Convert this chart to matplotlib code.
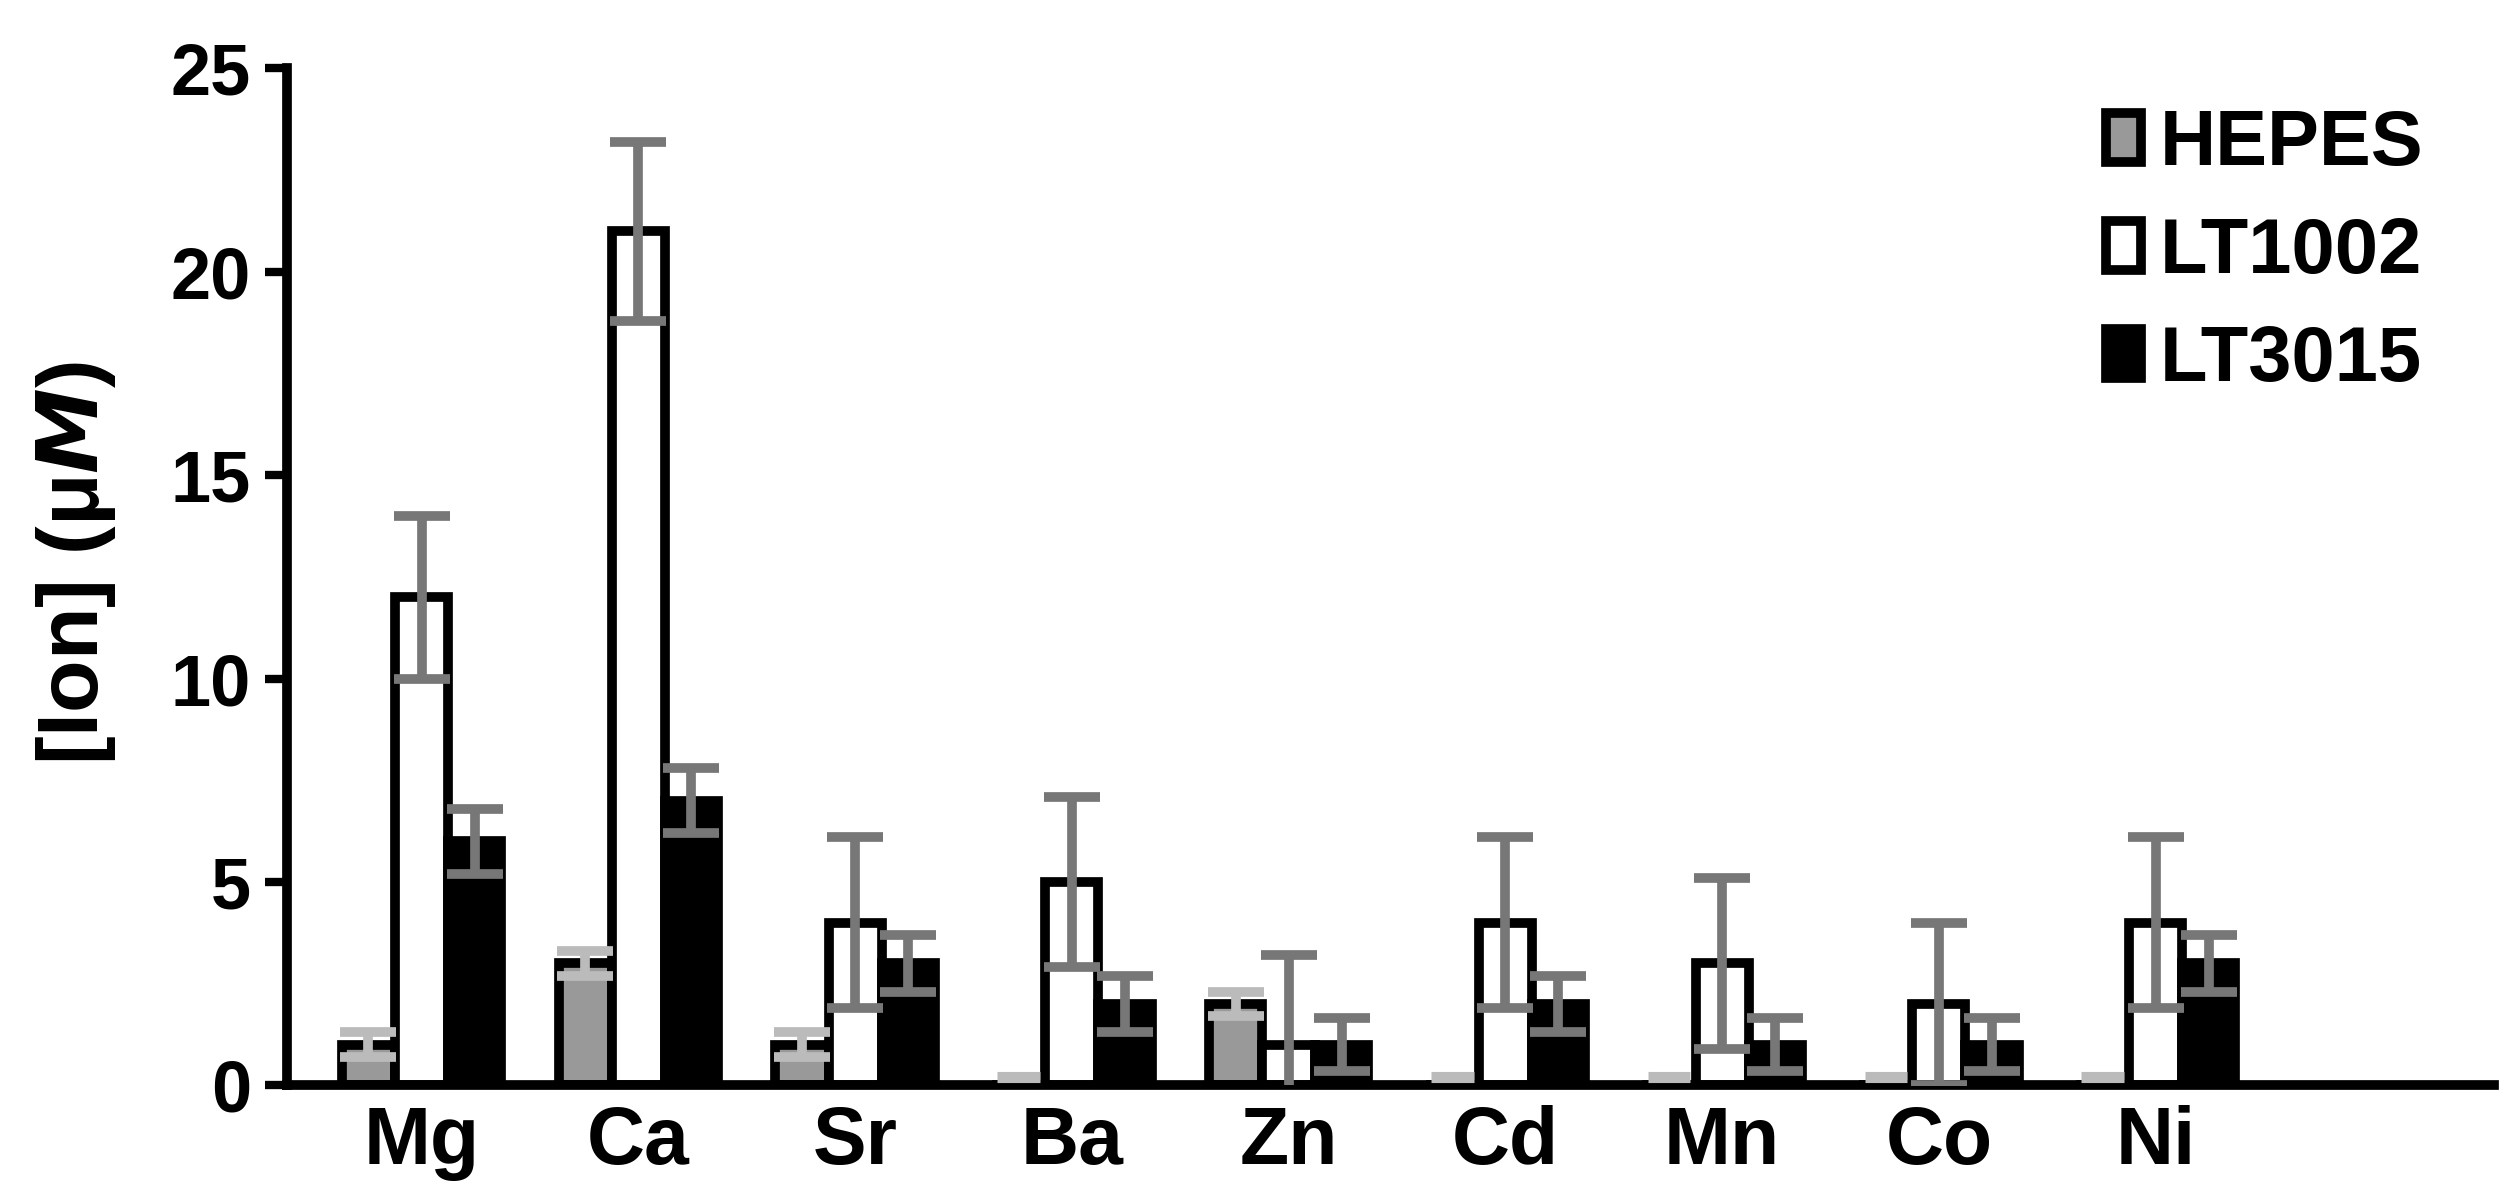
import matplotlib
matplotlib.use("Agg")
import matplotlib.pyplot as plt
import numpy as np

ions = ["Mg", "Ca", "Sr", "Ba", "Zn", "Cd", "Mn", "Co", "Ni"]
hepes = [1, 3, 1, 0, 2, 0, 0, 0, 0]
hepes_err = [0.3, 0.3, 0.3, 0, 0.3, 0, 0, 0, 0]
lt1002 = [12, 21, 4, 5, 1, 4, 3, 2, 4]
lt1002_err = [2.0, 2.2, 2.1, 2.1, 2.2, 2.1, 2.1, 2.0, 2.1]
lt3015 = [6, 7, 3, 2, 1, 2, 1, 1, 3]
lt3015_err = [0.8, 0.8, 0.7, 0.7, 0.65, 0.7, 0.65, 0.65, 0.7]

plt.rcParams['font.family'] = ['Liberation Sans', 'DejaVu Sans']
plt.rcParams['font.weight'] = 'bold'

fig = plt.figure(figsize=(25.19, 11.98), dpi=100)
ax = fig.add_axes([0.114, 0.094, 0.876, 0.849])
x = np.arange(len(ions))
w = 0.245
ekw = dict(elinewidth=7, capthick=7)
ax.bar(x - w, hepes, w, color='#999999', edgecolor='black', linewidth=7, label='HEPES', zorder=2)
ax.bar(x, lt1002, w, color='white', edgecolor='black', linewidth=7, label='LT1002', zorder=2)
ax.bar(x + w, lt3015, w, color='black', edgecolor='black', linewidth=7, label='LT3015', zorder=2)
hx = np.array([xi - w for xi, v in zip(x, hepes) if v > 0])
hv = [v for v in hepes if v > 0]
he = [e for v, e in zip(hepes, hepes_err) if v > 0]
ax.errorbar(hx, hv, yerr=he, fmt='none', ecolor='#bbbbbb', capsize=20, zorder=3, **ekw)
ax.errorbar(x, lt1002, yerr=lt1002_err, fmt='none', ecolor='#777777', capsize=20, zorder=3, **ekw)
ax.errorbar(x + w, lt3015, yerr=lt3015_err, fmt='none', ecolor='#777777', capsize=20, zorder=3, **ekw)
for xi, v in zip(x, hepes):
    if v == 0:
        ax.plot([xi - w * 1.4, xi - w * 0.6], [0.2, 0.2], color='#bbbbbb', lw=8, zorder=3, solid_capstyle='butt')

ax.set_xlim(-0.62, 9.56)
ax.set_ylim(0, 25)
ax.set_yticks([0, 5, 10, 15, 20, 25])
ax.set_xticks(x)
ax.set_xticklabels(ions)
ax.tick_params(axis='y', labelsize=52, width=6, length=16, pad=10)
ax.tick_params(axis='x', labelsize=58, length=0, pad=14)
for lab in ax.get_xticklabels() + ax.get_yticklabels():
    lab.set_fontweight('bold')
for s in ['top', 'right']:
    ax.spines[s].set_visible(False)
for s in ['left', 'bottom']:
    ax.spines[s].set_linewidth(7)
fig.text(0.03, 0.53, '[Ion] (μ$\\mathbf{\\it{M}}$)', rotation=90, fontsize=62, fontweight='bold', ha='center', va='center')
leg = ax.legend(loc='upper right', bbox_to_anchor=(1.0, 1.03), frameon=False, fontsize=56,
                handlelength=0.45, handleheight=0.6, handletextpad=0.25, labelspacing=0.45)
fig.savefig('out.png', dpi=100)
